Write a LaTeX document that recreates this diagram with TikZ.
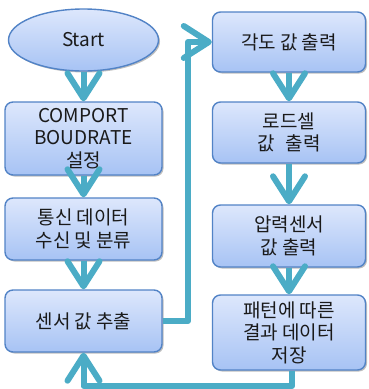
\documentclass[tikz,border=0pt]{standalone}
\usepackage{fontspec}
\setmainfont{Noto Sans CJK KR}
\usetikzlibrary{arrows.meta,shapes.geometric,shadows}
\definecolor{boxline}{HTML}{5283C6}
\definecolor{boxtop}{HTML}{DDE7FC}
\definecolor{boxbot}{HTML}{A7C3F4}
\definecolor{arrowc}{HTML}{4BACC6}
\definecolor{txt}{HTML}{1A1A1A}
\tikzset{
  flowbox/.style={draw=boxline, line width=1.4pt, rounded corners=8pt,
    top color=boxtop, bottom color=boxbot, align=center, text=txt,
    font=\fontsize{19}{22.5}\selectfont, inner sep=0pt,
    drop shadow={shadow xshift=1.5pt, shadow yshift=-1.5pt, opacity=0.25, fill=black}},
  startnode/.style={ellipse, draw=boxline, line width=1.4pt,
    top color=boxtop, bottom color=boxbot, text=txt,
    font=\fontsize{19}{22.5}\selectfont, inner sep=0pt,
    drop shadow={shadow xshift=1.5pt, shadow yshift=-1.5pt, opacity=0.25, fill=black}},
  conn/.style={draw=arrowc, line width=6pt, line join=round,
    -{Straight Barb[length=25pt,width=32pt,round]}}
}
\begin{document}
\begin{tikzpicture}[x=1pt,y=1pt]
\useasboundingbox (0,0) rectangle (368,-389);
\clip (0,0) rectangle (368,-389);
% left column
\node[startnode, minimum width=150pt, minimum height=62pt] (st) at (83.5,-40) {Start};
\node[flowbox, minimum width=157pt, minimum height=73pt] (s1) at (83.5,-138.5) {COMPORT\\BOUDRATE\\설정};
\node[flowbox, minimum width=157pt, minimum height=62pt] (s2) at (83.5,-229) {통신 데이터\\수신 및 분류};
\node[flowbox, minimum width=157pt, minimum height=62pt] (s3) at (83.5,-321) {센서 값 추출};
% right column
\node[flowbox, minimum width=153pt, minimum height=60pt] (r1) at (289,-42) {각도 값 출력};
\node[flowbox, minimum width=153pt, minimum height=61pt] (r2) at (289,-132.5) {로드셀\\값\hspace{0.6em}출력};
\node[flowbox, minimum width=153pt, minimum height=62pt] (r3) at (289,-236) {압력센서\\값 출력};
\node[flowbox, minimum width=153pt, minimum height=75pt] (r4) at (289,-332.5) {패턴에 따른\\결과 데이터\\저장};
% connectors
\coordinate (c1) at (188,-321);
\coordinate (c2) at (292,-386);
\draw[conn] (st.south) -- (s1.north);
\draw[conn] (s1.south) -- (s2.north);
\draw[conn] (s2.south) -- (s3.north);
\draw[conn] (s3.east) -- (c1) |- (r1.west);
\draw[conn] (r1.south) -- (r2.north);
\draw[conn] (r2.south) -- (r3.north);
\draw[conn] (r3.south) -- (r4.north);
\draw[conn] (r4.south -| c2) -- (c2) -- (s3.south |- c2) -- (s3.south);
\end{tikzpicture}
\end{document}
